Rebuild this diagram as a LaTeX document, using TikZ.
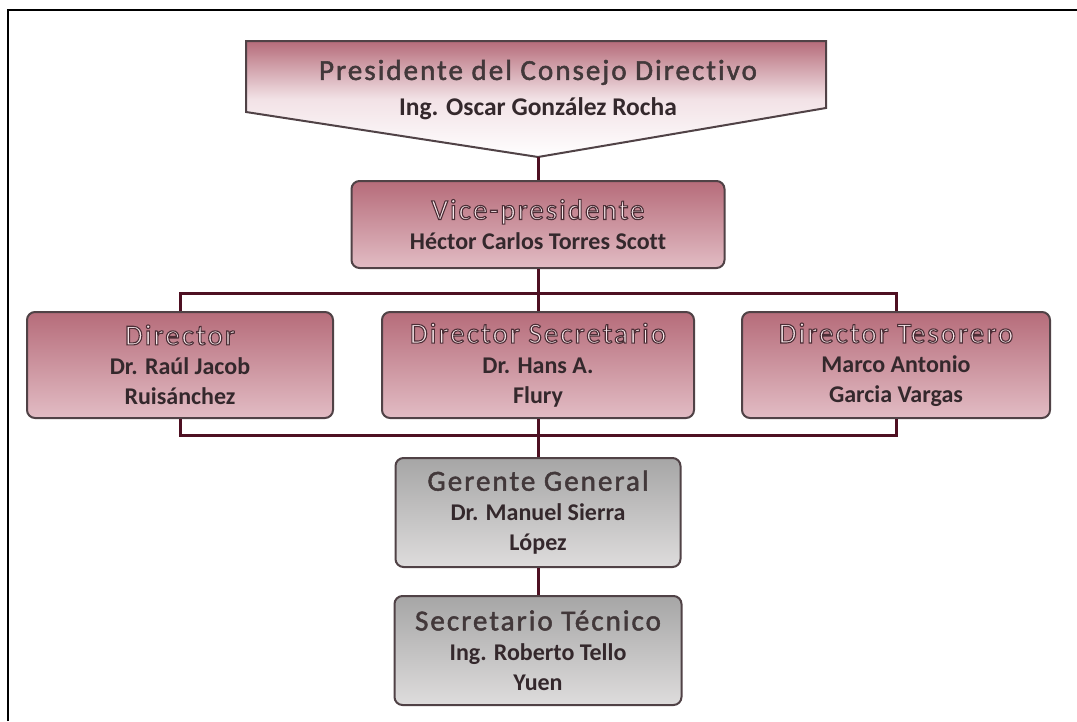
\documentclass[tikz,border=0pt]{standalone}
\usepackage{fontspec}
\setmainfont[Ligatures=NoCommon]{Carlito}
\newfontfamily\titlefont[LetterSpace=7, Ligatures=NoCommon]{Carlito}
\definecolor{roseTop}{RGB}{182,108,122}
\definecolor{roseMid}{RGB}{242,226,230}
\definecolor{roseBot}{RGB}{226,188,196}
\definecolor{grayTop}{RGB}{166,166,166}
\definecolor{grayMid}{RGB}{242,242,242}
\definecolor{grayBot}{RGB}{222,220,220}
\definecolor{boxline}{RGB}{80,66,70}
\definecolor{linkcol}{RGB}{78,16,34}
\definecolor{nametext}{RGB}{52,40,44}
\definecolor{titleFill}{RGB}{246,230,233}
\definecolor{darkTitle}{RGB}{66,56,58}
% light letters with a dark outline (fill, then stroke)
\newcommand\ttlpink[1]{{\titlefont\mdseries\fontsize{29}{33}\selectfont\textcolor{titleFill}{%
  \special{pdf:literal direct 2 Tr 1.1 w 0.30 0.18 0.21 RG}#1\special{pdf:literal direct 0 Tr}}}}
% dark letters, slightly thickened by a stroke of the same colour
\newcommand\ttldark[1]{{\titlefont\mdseries\fontsize{29}{33}\selectfont\textcolor{darkTitle}{%
  \special{pdf:literal direct 2 Tr 0.5 w}#1\special{pdf:literal direct 0 Tr}}}}
\tikzset{
  box/.style={draw=boxline, line width=2pt, rounded corners=8pt, align=center,
    font=\bfseries\fontsize{24}{30}\selectfont, text=nametext, inner sep=0pt},
  rosebox/.style={box, top color=roseTop, middle color=roseMid, bottom color=roseBot},
  graybox/.style={box, top color=grayTop, middle color=grayMid, bottom color=grayBot},
  link/.style={draw=linkcol, line width=3pt},
  frameline/.style={draw=black, line width=2pt},
}
\begin{document}
\begin{tikzpicture}[x=1pt, y=-1pt]
\useasboundingbox (0,0) rectangle (1077,721);
\fill[white] (0,0) rectangle (1077,721);
% page frame
\draw[frameline] (8,721) -- (8,10) -- (1077,10);

% president banner
\draw[draw=boxline, line width=2pt, top color=roseTop, bottom color=white, middle color=roseMid]
  (246,41) -- (826,41) -- (826,108) -- (538,157) -- (246,112) -- cycle;
\coordinate (prestip) at (538,157);
\node[align=center, font=\bfseries\fontsize{25.5}{30}\selectfont, text=nametext, inner sep=0pt] (pres) at (538,90)
  {\ttldark{Presidente del Consejo Directivo}\\[6pt] Ing. Oscar González Rocha};

% vice president
\node[rosebox, minimum width=373pt, minimum height=87pt] (vp) at (538,224.5)
  {\ttlpink{Vice-presidente}\\ Héctor Carlos Torres Scott};

% directors
\node[rosebox, minimum width=306pt, minimum height=106pt] (dir) at (180,365)
  {\ttlpink{Director}\\ Dr. Raúl Jacob\\ Ruisánchez};
\node[rosebox, minimum width=312pt, minimum height=106pt] (dsec) at (538,365)
  {\ttlpink{Director Secretario}\\ Dr. Hans A.\\ Flury};
\node[rosebox, minimum width=308pt, minimum height=106pt] (dtes) at (896,365)
  {\ttlpink{Director Tesorero}\\ Marco Antonio\\ Garcia Vargas};

% management
\node[graybox, minimum width=285pt, minimum height=109pt] (ger) at (538,512.5)
  {\ttldark{Gerente General}\\ Dr. Manuel Sierra\\ López};
\node[graybox, minimum width=287pt, minimum height=109pt] (sec) at (538,650.5)
  {\ttldark{Secretario Técnico}\\ Ing. Roberto Tello\\ Yuen};

% connectors
\coordinate (busA) at (538,293);
\coordinate (busB) at (538,435);
\draw[link] (prestip) -- (vp.north);
\draw[link] (vp.south) -- (dsec.north);
\draw[link] (dir.north) |- (busA) -| (dtes.north);
\draw[link] (dir.south) |- (busB) -| (dtes.south);
\draw[link] (dsec.south) -- (ger.north);
\draw[link] (ger.south) -- (sec.north);
\end{tikzpicture}
\end{document}
